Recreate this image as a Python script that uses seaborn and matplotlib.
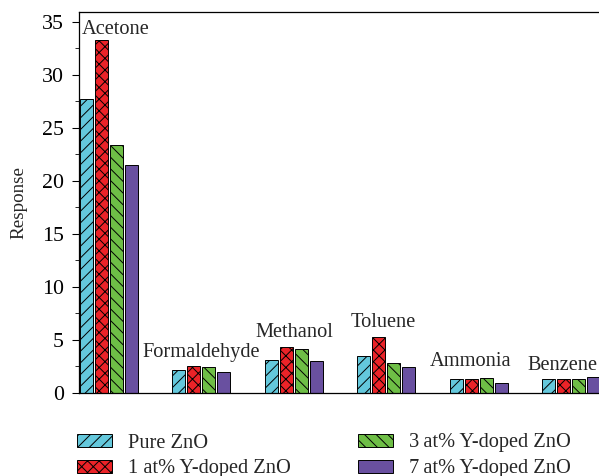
import numpy as np
import pandas as pd
import seaborn as sns
import matplotlib
matplotlib.use("Agg")
import matplotlib.pyplot as plt
from matplotlib.patches import Patch
from matplotlib.ticker import MultipleLocator

# ---- data ----
gases = ["Acetone", "Formaldehyde", "Methanol", "Toluene", "Ammonia", "Benzene"]
samples = ["Pure ZnO", "1 at% Y-doped ZnO", "3\u2009at% Y-doped ZnO", "7\u2009at% Y-doped ZnO"]
pure_zno = [27.75, 2.08, 3.09, 3.43, 1.29, 1.26]
y1_zno = [33.27, 2.46, 4.32, 5.23, 1.32, 1.26]
y3_zno = [23.40, 2.43, 4.07, 2.74, 1.39, 1.23]
y7_zno = [21.50, 1.96, 2.93, 2.43, 0.92, 1.45]

colors = ["#64C8DC", "#EB2328", "#6EBE46", "#6950A0"]
hatches = ["//", "xx", "\\\\", ""]

rows = []
for s, vals in zip(samples, [pure_zno, y1_zno, y3_zno, y7_zno]):
    for g, v in zip(gases, vals):
        rows.append({"gas": g, "sample": s, "response": v})
df = pd.DataFrame(rows)

sns.set_style("ticks")
plt.rcParams["font.family"] = ["Liberation Serif", "DejaVu Serif"]
plt.rcParams["hatch.linewidth"] = 1.0

DPI = 70
W, H = 599, 476
fig = plt.figure(figsize=(W / DPI, H / DPI), dpi=DPI)

# axes geometry in pixels
left_px, top_px, base_px = 79, 12.3, 392.5
xlim = (-0.32, 5.58)
px_per_cat = 92.5
ax_w_px = (xlim[1] - xlim[0]) * px_per_cat
ax = fig.add_axes([left_px / W, (H - base_px) / H, ax_w_px / W, (base_px - top_px) / H])

sns.barplot(data=df, x="gas", y="response", hue="sample", palette=colors,
            width=0.65, gap=0.135, edgecolor="black", linewidth=1.0,
            saturation=1, ax=ax, legend=False, errorbar=None)

for cont, h in zip(ax.containers, hatches):
    for bar in cont:
        bar.set_hatch(h)

ax.set_xlim(*xlim)
ax.set_ylim(0, 35.9)
ax.yaxis.set_major_locator(MultipleLocator(5))
ax.yaxis.set_minor_locator(MultipleLocator(2.5))
ax.tick_params(axis="y", which="major", direction="out", length=7, width=1.1,
               labelsize=22.5, pad=8.5, colors="black")
ax.tick_params(axis="y", which="minor", direction="out", length=4, width=1.0)
ax.tick_params(axis="x", length=0, labelbottom=False)
ax.set_xlabel("")
ax.set_ylabel("Response", fontsize=19.5)
ax.yaxis.set_label_coords(27 / W, 0.5)
ax.yaxis.label.set_transform(
    matplotlib.transforms.blended_transform_factory(fig.transFigure, ax.transAxes))
for sp in ["top", "left", "bottom", "right"]:
    ax.spines[sp].set_linewidth(1.3)
    ax.spines[sp].set_color("black")

# category labels above each group
label_dy = [0.6, 0.85, 0.95, 0.97, 1.1, 0.67]
label_dx_px = [0, 0, 1, -3, -8, -9]
group_max = np.max(np.array([pure_zno, y1_zno, y3_zno, y7_zno]), axis=0)
for i, g in enumerate(gases):
    if i == 0:
        ax.text(xlim[0] + 2.5 / px_per_cat, group_max[i] + label_dy[i], g,
                ha="left", va="baseline", fontsize=21)
    else:
        ax.text(i + label_dx_px[i] / px_per_cat, group_max[i] + label_dy[i], g,
                ha="center", va="baseline", fontsize=21)

handles = [Patch(facecolor=c, edgecolor="black", hatch=h, linewidth=1.0)
           for c, h in zip(colors, hatches)]
fig.legend(handles, samples, loc="upper left", ncol=2, frameon=False,
           bbox_to_anchor=(77 / W, 1 - 433.5 / H), bbox_transform=fig.transFigure,
           fontsize=21, borderpad=0, borderaxespad=0, handlelength=1.7,
           handleheight=0.6, handletextpad=0.78, columnspacing=3.3,
           labelspacing=0.33)

fig.savefig("out.png", dpi=DPI)
